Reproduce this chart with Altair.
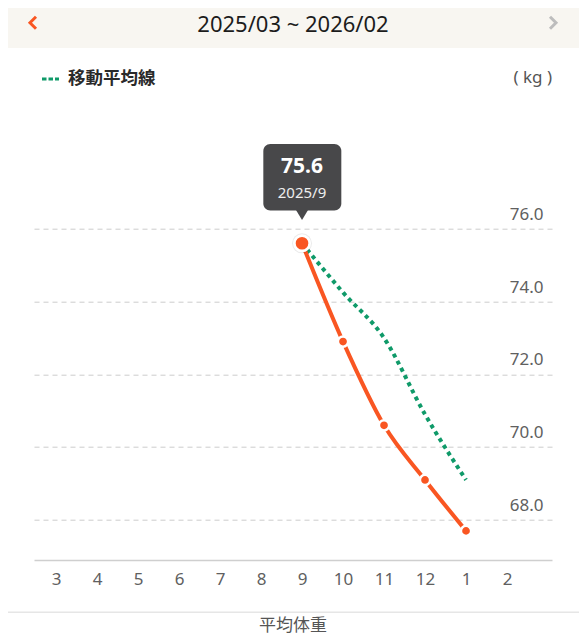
import altair as alt
import pandas as pd

# ---- data ----
months = ["3", "4", "5", "6", "7", "8", "9", "10", "11", "12", "1", "2"]
data_months = ["9", "10", "11", "12", "1"]
avg_weight = [75.6, 72.9, 70.6, 69.1, 67.7]
moving_avg = [75.6, 74.25, 73.0, 70.9, 69.1]
y_ticks = [68.0, 70.0, 72.0, 74.0, 76.0]
selected_month = "9"
selected_label = "2025/9"
title_text = "2025/03 ~ 2026/02"
legend_text = "移動平均線"
unit_text = "( kg )"
footer_text = "平均体重"

ORANGE = "#f95622"
GREEN = "#0f9a69"
FONT = "Noto Sans, Noto Sans CJK JP"
FONT_JP = "Noto Sans CJK JP"

df = pd.DataFrame({
    "idx": [months.index(m) for m in data_months],
    "month": data_months,
    "weight": avg_weight,
    "ma": moving_avg,
})
sel = df[df["month"] == selected_month].copy()
sel["label"] = selected_label
rest = df[df["month"] != selected_month]

one = pd.DataFrame({"k": [0]})

x_scale = alt.Scale(domain=[-0.537, 12.097], nice=False, zero=False)
y_scale = alt.Scale(domain=[66.9, 79.6], nice=False, zero=False)

label_expr = "[" + ",".join("'%s'" % m for m in months) + "][datum.value]"

x_axis = alt.Axis(values=list(range(len(months))), labelExpr=label_expr, title=None,
                  domainColor="#cfcfcf", domainWidth=1.5, ticks=False, grid=False,
                  labelFontSize=17, labelColor="#606060", labelFont=FONT,
                  labelPadding=11, labelFlush=False, labelOverlap=False)
y_axis = alt.Axis(values=y_ticks, format=".1f", orient="right", title=None,
                  domain=False, ticks=False, grid=True, gridColor="#cccccc",
                  gridDash=[5, 4], gridWidth=1, labelAlign="right",
                  labelBaseline="alphabetic", labelPadding=-9, labelOffset=-9.5,
                  labelFontSize=17, labelColor="#606060", labelFont=FONT,
                  labelFlush=False, labelOverlap=False)

X = alt.X("idx:Q", scale=x_scale, axis=x_axis)


def Yf(field):
    return alt.Y(field, scale=y_scale, axis=y_axis)


# ---- decorations ----
header = alt.Chart(one).mark_rect(color="#f8f6f1").encode(
    x=alt.value(-40), x2=alt.value(560), y=alt.value(-100), y2=alt.value(-49.7))
title = alt.Chart(one).mark_text(text=title_text, fontSize=22, font=FONT, color="#1c1c1c",
                                 align="center", baseline="middle").encode(
    x=alt.value(259), y=alt.value(-73))
chev_l = alt.Chart(one).mark_point(shape="M 0.5 -1 L -0.5 0 L 0.5 1", filled=False,
                                   stroke=ORANGE, strokeWidth=3, size=144, opacity=1).encode(
    x=alt.value(-1), y=alt.value(-75))
chev_r = alt.Chart(one).mark_point(shape="M -0.5 -1 L 0.5 0 L -0.5 1", filled=False,
                                   stroke="#bdbdbd", strokeWidth=3, size=144, opacity=1).encode(
    x=alt.value(519), y=alt.value(-75))
leg_dash = alt.Chart(one).mark_rule(color=GREEN, strokeWidth=3, strokeDash=[4.5, 2]).encode(
    x=alt.value(8), x2=alt.value(25), y=alt.value(-18.7))
leg_text = alt.Chart(one).mark_text(text=legend_text, fontSize=17.5, font=FONT_JP,
                                    fontWeight="bold", color="#2a2a2a", align="left",
                                    baseline="middle").encode(
    x=alt.value(34), y=alt.value(-18.7))
unit = alt.Chart(one).mark_text(text=unit_text, fontSize=17, font=FONT, color="#555555",
                                align="right", baseline="middle").encode(
    x=alt.value(518), y=alt.value(-19.7))
sep = alt.Chart(one).mark_rule(color="#e6e6e6", strokeWidth=1.5).encode(
    x=alt.value(-40), x2=alt.value(560), y=alt.value(514.5))
footer = alt.Chart(one).mark_text(text=footer_text, fontSize=17, font=FONT_JP,
                                  color="#555555", align="center", baseline="middle").encode(
    x=alt.value(259), y=alt.value(528.5))

# ---- data layers ----
base = alt.Chart(df)
ma_line = base.mark_line(color=GREEN, strokeWidth=4, strokeDash=[4, 4], strokeCap="butt",
                         interpolate="monotone").encode(x=X, y=Yf("ma:Q"))
w_line = base.mark_line(color=ORANGE, strokeWidth=4, interpolate="monotone").encode(
    x=X, y=Yf("weight:Q"))
pts = alt.Chart(rest).mark_circle(size=104, fill=ORANGE, stroke="white", strokeWidth=2.5,
                                  opacity=1).encode(x=X, y=Yf("weight:Q"))

selc = alt.Chart(sel)
shadow = selc.mark_circle(size=400, color="#000000", opacity=0.08).encode(
    x=X, y=Yf("weight:Q"))
big = selc.mark_circle(size=235, fill=ORANGE, stroke="white", strokeWidth=2.7,
                       opacity=1).encode(x=X, y=Yf("weight:Q"))
tip_box = selc.mark_rect(color="#48484a", cornerRadius=7, xOffset=-38.7, x2Offset=39.3,
                         yOffset=-99.4, y2Offset=-32.7).encode(
    x=X, x2="idx:Q", y=Yf("weight:Q"), y2="weight:Q")
tip_ptr = selc.mark_point(shape="M -0.67 -0.6 L 0.67 -0.6 L 0 0.5 Z", filled=True,
                          fill="#48484a", strokeWidth=0, size=324, opacity=1,
                          yOffset=-27.9).encode(x=X, y=Yf("weight:Q"))
tip_val = selc.mark_text(fontSize=21, fontWeight="bold", font=FONT, color="white",
                         align="center", baseline="middle", yOffset=-76.1).encode(
    x=X, y=Yf("weight:Q"), text=alt.Text("weight:Q", format=".1f"))
tip_lab = selc.mark_text(fontSize=15, font=FONT, color="#eeeeee",
                         align="center", baseline="middle", yOffset=-50.7).encode(
    x=X, y=Yf("weight:Q"), text="label:N")

chart = alt.layer(
    header, title, chev_l, chev_r, leg_dash, leg_text, unit, sep, footer,
    ma_line, w_line, pts, shadow, big, tip_box, tip_ptr, tip_val, tip_lab,
).properties(
    width=518, height=462.3,
    padding={"left": 26, "top": 89.7, "right": 27, "bottom": 75},
    autosize=alt.AutoSizeParams(type="none"),
    background="white",
).configure_view(stroke=None)

chart.save("out.html", embed_options={"renderer": "svg", "actions": False})
